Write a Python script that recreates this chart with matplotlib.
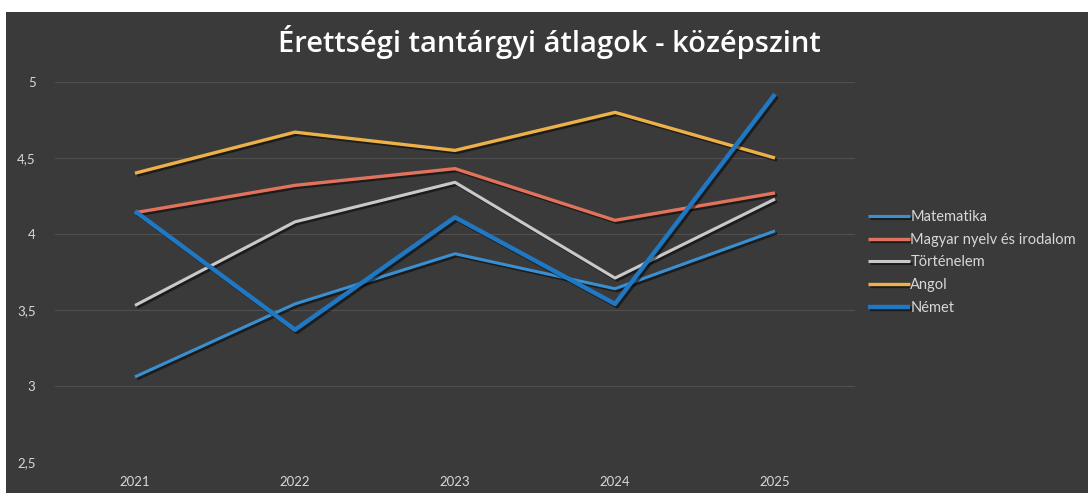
import matplotlib.pyplot as plt
import matplotlib.patheffects as pe
from matplotlib.patches import Rectangle
from matplotlib.ticker import FuncFormatter

years = [2021, 2022, 2023, 2024, 2025]
matematika = [3.06, 3.54, 3.87, 3.64, 4.02]
magyar = [4.14, 4.32, 4.43, 4.09, 4.27]
tortenelem = [3.53, 4.08, 4.34, 3.71, 4.23]
angol = [4.40, 4.67, 4.55, 4.80, 4.50]
nemet = [4.15, 3.37, 4.11, 3.54, 4.92]

series = [
    ("Matematika", matematika, "#3a8fd0", 2.2),
    ("Magyar nyelv és irodalom", magyar, "#e2725c", 2.4),
    ("Történelem", tortenelem, "#c9c9c9", 2.2),
    ("Angol", angol, "#eeb049", 2.4),
    ("Német", nemet, "#1f78c1", 3.2),
]

BG = "#3a3a3b"
TXT = "#d8d8d8"

fig = plt.figure(figsize=(10.88, 4.93), dpi=100, facecolor="white")
fig.patches.append(Rectangle((6 / 1088, 0), 1, 1 - 12 / 493, transform=fig.transFigure,
                             facecolor=BG, edgecolor="none", zorder=-10))

ax = fig.add_axes([55 / 1088, 31 / 493, 800 / 1088, 380 / 493])
ax.set_facecolor("none")
for sp in ax.spines.values():
    sp.set_visible(False)

shadow = [pe.SimpleLineShadow(offset=(1.5, -1.5), shadow_color="black", alpha=0.5), pe.Normal()]
for name, vals, col, lw in series:
    ax.plot(years, vals, color=col, lw=lw, label=name, solid_capstyle="butt",
            path_effects=shadow)

ax.set_xlim(2020.5, 2025.5)
ax.set_ylim(2.5, 5)
ax.set_yticks([2.5, 3, 3.5, 4, 4.5, 5])
ax.yaxis.set_major_formatter(FuncFormatter(lambda v, p: f"{v:g}".replace(".", ",")))
ax.set_xticks(years)
ax.grid(axis="y", color="#4f4f4f", lw=0.8)
ax.set_axisbelow(True)
ax.tick_params(length=0, colors=TXT, labelsize=9.5)
ax.tick_params(axis="y", pad=14)
ax.tick_params(axis="x", pad=10)
for t in ax.get_xticklabels() + ax.get_yticklabels():
    t.set_fontfamily("Lato")

fig.text(0.505, 0.915, "Érettségi tantárgyi átlagok - középszint", ha="center", va="center",
         color="white", fontsize=21, family="Open Sans", fontweight="semibold")

leg = ax.legend(loc="center left", bbox_to_anchor=(1.009, 0.525), frameon=False,
                borderaxespad=0, handlelength=2.9, handletextpad=0.0, labelspacing=0.6,
                prop={"family": "Lato", "size": 10.5})
for t in leg.get_texts():
    t.set_color(TXT)

fig.savefig("out.png", dpi=100, facecolor=fig.get_facecolor())
